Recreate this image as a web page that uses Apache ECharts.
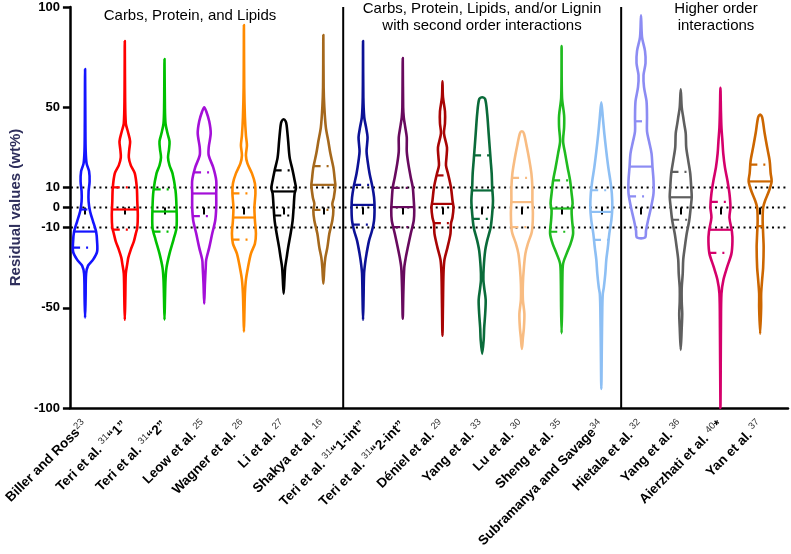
<!DOCTYPE html>
<html><head><meta charset="utf-8">
<script src="https://cdn.jsdelivr.net/npm/echarts@6/dist/echarts.min.js"></script>
<style>html,body{margin:0;padding:0;background:#fff}#c{width:791px;height:554px}</style>
</head><body><div id="c"></div>
<script>
// ---------- data ----------
const categories = ['Biller and Ross', 'Teri et al. ', 'Teri et al. ', 'Leow et al. ', 'Wagner et al. ', 'Li et al. ', 'Shakya et al. ',
  'Teri et al. ', 'Teri et al. ', 'Déniel et al. ', 'Yang et al. ', 'Lu et al. ', 'Sheng et al. ', 'Subramanya and Savage',
  'Hietala et al. ', 'Yang et al. ', 'Aierzhati et al. ', 'Yan et al. '];
const refNumbers = ['23', '31', '31', '25', '26', '27', '16', '31', '31', '29', '33', '30', '35', '34', '32', '36', '40', '37'];
const suffixes = ['', '“1”', '“2”', '', '', '', '', '“1-int”', '“2-int”', '', '', '', '', '', '', '', '*', ''];
const colors = ['#1414ff', '#ff0000', '#00c000', '#a40fd8', '#ff8a00', '#000000', '#a5681c',
  '#0c1196', '#680a5e', '#a80404', '#0a6b3a', '#f8bc82', '#1fbb1f', '#8dbff4',
  '#8c8cf3', '#5f5f5f', '#d5006b', '#cc6600'];

const medians = [-12, -1, -2, 7, -5, 8, 11.3, 1.3, 0.2, 1.8, 8.5, 2.7, -0.5, -2.2, 20.4, 5.1, -11.1, 13];
const q3 = [-1, 10, 9, 17.5, 7, 18.5, 20.6, 11.3, 9.8, 16, 26, 14.8, 13.5, 8.6, 43, 17.8, 2.8, 21.4];
const q1 = [-20, -11, -12, -4.3, -16, -4, -1.2, -8.5, -9.8, -7.8, -5.7, -9.8, -12.1, -16.1, 5.5, -6.1, -22.6, -9.3];

// density profiles: [residual value, density]
const densityBiller = [[69,0],[40,0.3],[28,0.6],[22,1.5],[18,4],[13,4.5],[8,3.5],[3,3.5],[-2,5],[-7,8],[-12,11],[-17,12],[-22,12],[-26,8],[-29,3],[-33,1],[-45,0.5],[-55,0]];
const densityTeri1 = [[83,0],[55,0.3],[42,1],[38,3],[33,5.3],[29,4.5],[25,4],[21,6],[17,10],[10,12],[3,12.5],[-4,13],[-10,12.5],[-13,11],[-17,9],[-21,6],[-25,3.5],[-28,2.5],[-33,1],[-45,0.5],[-56,0]];
const densityTeri2 = [[74,0],[50,0.4],[42,1],[37,3],[33,5],[29,4.5],[25,3.5],[21,5],[17,8],[8.5,11],[0,12],[-10,12],[-16,9],[-23,5],[-30,2],[-36,1],[-45,0.5],[-56,0]];
const densityLeow = [[50,0],[48,2],[43,5],[37,6.5],[30,4.5],[26,4.5],[20,9],[13.5,12],[7,12],[0,12],[-6.5,11],[-13,8],[-20,5],[-26,2],[-30,1.5],[-38,0.7],[-48,0]];
const densityWagner = [[91,0],[60,0.3],[45,1],[36,2],[31,3],[26,2],[22,3.5],[17,8],[12,11],[7,11.5],[0,10.5],[-6.5,11],[-13,12],[-18,11],[-23,7],[-30,4],[-36,2],[-43,1],[-52,0.5],[-62,0]];
const densityLi = [[44,0],[43,2],[41,3],[33.4,4.5],[25,6],[18.5,9],[13.5,11],[9.6,12.3],[7,11],[0,10],[-6.5,9],[-13,7],[-20,4.5],[-25,3],[-30,1.5],[-36,0.8],[-43,0]];
const densityShakya = [[86,0],[60,0.3],[50,1],[40,2.5],[33,5],[27,7],[20,10],[13.5,11.5],[11,12],[5,10.5],[1.8,9],[-1.5,10],[-6.5,9],[-13,6],[-20,4],[-25,2],[-30,1],[-38,0]];
const densityTeri1int = [[83,0],[55,0.3],[45,1.2],[40,3],[35,4.5],[28,3.5],[23.4,4.5],[17,6.5],[10,9.5],[5,11],[0,11.5],[-6.5,11],[-11.5,9],[-16.5,6],[-23,3.5],[-28,2],[-33,1],[-45,0.5],[-56,0]];
const densityTeri2int = [[74.5,0],[50,0.4],[45,1],[40,2.5],[35,4],[28,4],[22,5.5],[15,8],[10,10],[3.5,11],[-1.5,11.5],[-6.5,11],[-13,8],[-20,5],[-25,3],[-30,1.5],[-42,0.6],[-55.5,0]];
const densityDeniel = [[63,0],[55,0.5],[48,2.5],[42,2.5],[37,1.5],[30,4.5],[25,4],[21,3.5],[17,5.5],[10,8.5],[3.5,10],[0,11],[-5,10],[-8,8.5],[-13,8],[-20,5],[-26,2],[-33,1],[-48,0.5],[-64,0]];
const densityYang33 = [[55,0],[54,3],[46.7,5],[36.7,6.5],[30,7.5],[23.4,8.5],[17,9.5],[10,10],[3.5,10.8],[-3,10],[-9.8,8.5],[-16.5,5],[-21.5,3],[-30,1.5],[-36,1.2],[-40,2],[-46,3.5],[-53,3],[-60,2],[-66,1.5],[-73,0]];
const densityLu = [[38,0],[37,2],[30,5],[23.4,7.5],[17,9.5],[10,10.5],[3.5,10.5],[-3,11],[-10,10.5],[-13,9.5],[-18,6],[-23,3.5],[-30,2],[-38,1],[-46,1],[-53,2.5],[-60,2],[-65,1],[-70.5,0]];
const densitySheng = [[80.5,0],[55,0.4],[46,2.5],[40,2.5],[33,1.5],[27,3.5],[20,6],[13.5,8.5],[7,10],[2,11],[-1.5,10],[-6.5,10.5],[-13,11.5],[-18,9],[-23,5],[-28,1.5],[-35,0.8],[-50,0.5],[-62.7,0]];
const densitySubramanya = [[52.5,0],[45,1.5],[37,3],[28,5],[20,7],[13.5,9],[7,10.5],[0,11],[-6.5,10],[-13,8],[-20,6.5],[-26,5],[-33,4],[-40,2.5],[-43,1.5],[-50,1],[-70,0.5],[-90.5,0]];
const densityHietala = [[95.8,0],[85,1],[78,4],[72,4.5],[66,2.5],[60,3],[53,5.5],[45,6],[38,6],[33,8],[27,10.5],[20,11.5],[13.5,12.5],[7,12.5],[0,10],[-6.5,7],[-11.5,5],[-15,4]];
const densityYang36 = [[58.9,0],[50,1],[45,2.5],[41.7,3.5],[37,5],[30,5.5],[23.4,7.5],[17,9.5],[10,10.5],[5.2,11],[0,10],[-6.5,8.5],[-13,6],[-20,4],[-26,2.5],[-33,2],[-40,1],[-47,1],[-53,1.5],[-60,1],[-71,0]];
const densityAierzhati = [[59.7,0],[48,0.5],[40,1],[33,2],[27,2.8],[20,4.5],[13.5,7],[7,9],[0,10],[-5,9],[-12,11.5],[-17,12],[-23,11],[-30,6.5],[-36,3],[-43,1],[-60,0.5],[-100,0]];
const densityYan = [[46.4,0],[45,2],[37,4.5],[30,7],[23.4,9.5],[17,10.5],[13,11.5],[8.5,9],[3.5,5],[0,3],[-6.5,2.5],[-13,3],[-20,3.5],[-30,3],[-36,2],[-43,1],[-50,1],[-63,0]];

const profiles = [densityBiller, densityTeri1, densityTeri2, densityLeow, densityWagner, densityLi, densityShakya,
  densityTeri1int, densityTeri2int, densityDeniel, densityYang33, densityLu, densitySheng, densitySubramanya,
  densityHietala, densityYang36, densityAierzhati, densityYan];

const yTicks = [-100, -50, -10, 0, 10, 50, 100];
const refLines = [10, 0, -10];
const groupEnds = [6, 13]; // last category index of each group
const groupTitles = ['Carbs, Protein, and Lipids', 'Carbs, Protein, Lipids, and/or Lignin\nwith second order interactions', 'Higher order\ninteractions'];

// ---------- chart ----------
const FONT = 'Liberation Sans, Arial, Helvetica, sans-serif';
const chart = echarts.init(document.getElementById('c'), null, {renderer: 'canvas'});

function interp(prof, v) {
  for (let i = 0; i < prof.length - 1; i++) {
    const a = prof[i], b = prof[i + 1];
    if (v <= a[0] && v >= b[0]) {
      const t = (a[0] - v) / ((a[0] - b[0]) || 1);
      return a[1] + (b[1] - a[1]) * t;
    }
  }
  return 0;
}

const axisKeys = categories.map((c, i) => c + refNumbers[i] + suffixes[i]);

const titleStyle = {fontSize: 15, fontWeight: 'normal', color: '#000', fontFamily: FONT, lineHeight: 16.5};

const option = {
  backgroundColor: '#fff',
  animation: false,
  title: [
    {text: groupTitles[0], left: 190, top: 8, textAlign: 'center', padding: 0, textStyle: titleStyle},
    {text: groupTitles[1], left: 482, top: 1, textAlign: 'center', padding: 0, textStyle: titleStyle},
    {text: groupTitles[2], left: 716, top: 1, textAlign: 'center', padding: 0, textStyle: titleStyle}
  ],
  grid: [
    {left: 58, right: 3, top: 7, bottom: 146},
    {left: 65, right: 11, top: 7, bottom: 146}
  ],
  xAxis: [
    {type: 'value', gridIndex: 0, min: 0, max: 1,
      axisLine: {show: true, onZero: false, lineStyle: {color: '#000', width: 2.5}},
      axisTick: {show: false}, axisLabel: {show: false}, splitLine: {show: false}},
    {type: 'category', gridIndex: 1, data: axisKeys, boundaryGap: true,
      axisLine: {show: false},
      axisTick: {show: true, alignWithLabel: true, length: 7, lineStyle: {color: '#000', width: 2}},
      axisLabel: {
        interval: 0, rotate: 45, margin: 15,
        formatter: (val, idx) => '{b|' + categories[idx] + '}{s|' + refNumbers[idx] + '}' + (suffixes[idx] ? '{b|' + suffixes[idx] + '}' : ''),
        rich: {
          b: {fontSize: 13.5, fontWeight: 'bold', color: '#000', fontFamily: FONT, lineHeight: 17},
          s: {fontSize: 9.5, fontWeight: 'normal', color: '#333', fontFamily: FONT, verticalAlign: 'top'}
        }
      },
      splitLine: {show: false}}
  ],
  yAxis: [
    {type: 'value', gridIndex: 0, min: -100, max: 100,
      name: 'Residual values (wt%)', nameLocation: 'middle', nameGap: 45,
      nameTextStyle: {fontSize: 15, fontWeight: 'bold', color: '#2f2f5c', fontFamily: FONT},
      axisLine: {show: true, lineStyle: {color: '#000', width: 2.5}},
      axisTick: {show: true, length: 7, customValues: yTicks, lineStyle: {color: '#000', width: 2.5}},
      axisLabel: {customValues: yTicks, margin: 10, fontSize: 13, fontWeight: 'bold', color: '#000', fontFamily: FONT},
      splitLine: {show: false}},
    {type: 'value', gridIndex: 1, min: -100, max: 100, show: false, splitLine: {show: false}}
  ],
  series: [
    {
      type: 'custom', xAxisIndex: 0, yAxisIndex: 0, z: 1,
      data: refLines.map(v => [0, v]),
      renderItem: (params, api) => {
        const cs = params.coordSys;
        const y = api.coord([0, api.value(1)])[1];
        return {type: 'line', shape: {x1: cs.x + 1, y1: y, x2: cs.x + cs.width, y2: y},
          style: {stroke: '#000', lineWidth: 2, lineDash: [2, 3.7]}};
      }
    },
    {
      type: 'custom', xAxisIndex: 1, yAxisIndex: 1, z: 2,
      data: groupEnds.map(i => [i]),
      renderItem: (params, api) => {
        const cs = params.coordSys;
        const i = api.value(0);
        const x = (api.coord([i, 0])[0] + api.coord([i + 1, 0])[0]) / 2;
        return {type: 'line', shape: {x1: x, y1: cs.y, x2: x, y2: cs.y + cs.height},
          style: {stroke: '#000', lineWidth: 2}};
      }
    },
    {
      type: 'custom', xAxisIndex: 1, yAxisIndex: 1, z: 3,
      data: categories.map((c, i) => [i]),
      renderItem: (params, api) => {
        const i = api.value(0);
        const prof = profiles[i];
        const color = colors[i];
        const band = api.size([1, 0])[0];
        const s = band / 39.7;
        const cx = api.coord([i, 0])[0];
        const pts = [];
        prof.forEach(p => { pts.push([cx + p[1] * s, api.coord([i, p[0]])[1]]); });
        for (let k = prof.length - 1; k >= 0; k--) {
          const p = prof[k];
          if (p[1] > 0) pts.push([cx - p[1] * s, api.coord([i, p[0]])[1]]);
        }
        const hline = (v, dash, w) => {
          const d = interp(prof, v) * s;
          const y = api.coord([i, v])[1];
          return {type: 'line', shape: {x1: cx - d, y1: y, x2: cx + d, y2: y},
            style: {stroke: color, lineWidth: w, lineDash: dash}};
        };
        return {
          type: 'group',
          children: [
            {type: 'polygon', shape: {points: pts, smooth: 0.3},
              style: {fill: 'none', stroke: color, lineWidth: 2.6, lineJoin: 'round'}},
            hline(medians[i], null, 2.2),
            hline(q3[i], [7, 6, 2, 40], 2.2),
            hline(q1[i], [7, 6, 2, 40], 2.2)
          ]
        };
      }
    }
  ]
};
chart.setOption(option);
</script>
</body></html>
